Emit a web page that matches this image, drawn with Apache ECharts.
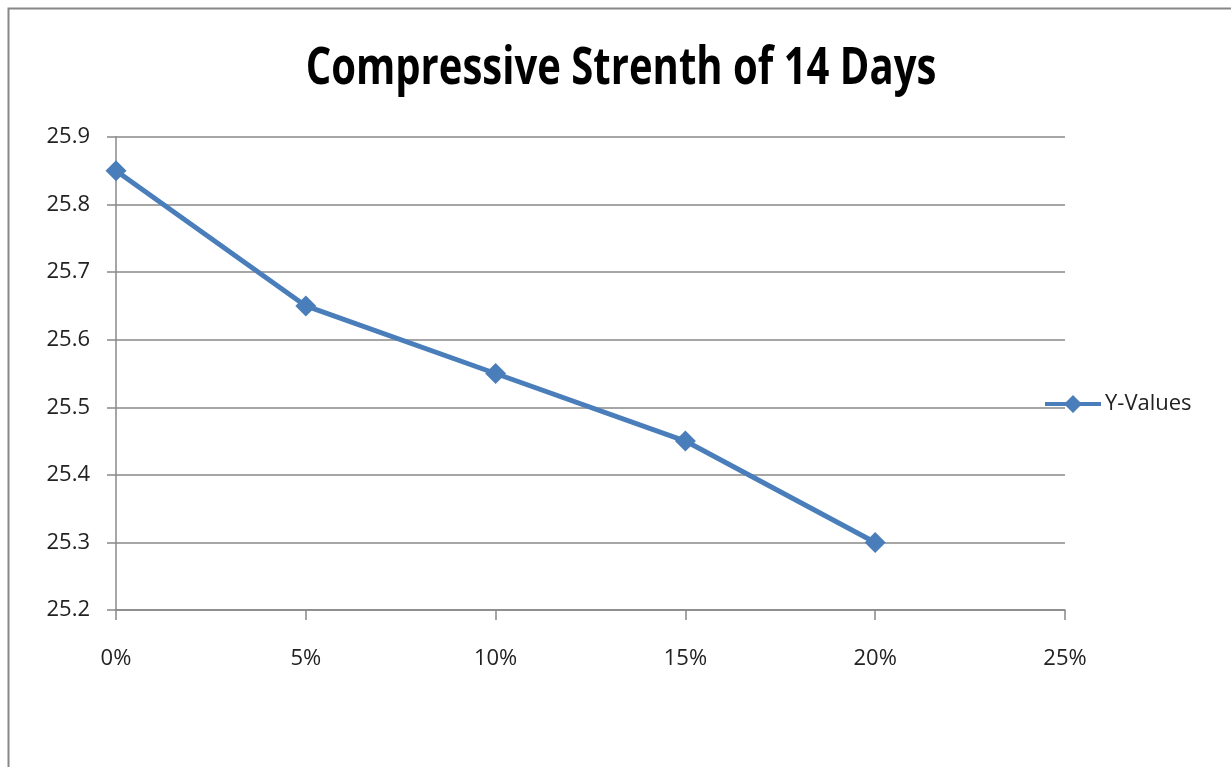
<!DOCTYPE html>
<html><head><meta charset="utf-8">
<script src="https://cdn.jsdelivr.net/npm/echarts@6/dist/echarts.min.js"></script>
<style>html,body{margin:0;padding:0;background:#fff}#c{width:1231px;height:767px}</style>
</head><body><div id="c"></div>
<script>
const titleText = 'Compressive Strenth of 14 Days';
const seriesName = 'Y-Values';
const xValues = [0, 0.05, 0.10, 0.15, 0.20];
const yValues = [25.85, 25.65, 25.55, 25.45, 25.30];

const chart = echarts.init(document.getElementById('c'));
const F = '"Open Sans", "DejaVu Sans", sans-serif';
chart.setOption({
  animation: false,
  backgroundColor: '#fff',
  graphic: [
    {type:'rect', shape:{x:8.5,y:8.5,width:1240,height:780}, style:{fill:null, stroke:'#888', lineWidth:2}},
    {type:'text', x: 621, y: 69, scaleX: 0.77, style:{text: titleText, fill:'#000', font: 'bold 52px "Open Sans", sans-serif', textAlign:'center', textVerticalAlign:'middle'}}
  ],
  legend: {data:[{name: seriesName, icon: 'path://M0,7 L56,7 L56,11 L0,11 Z M28,0 L37,9 L28,18 L19,9 Z'}], left: 1040, top: 388, itemWidth: 56, itemHeight: 18, itemGap: 4,
    textStyle: {fontFamily: F, fontSize: 22, color: '#222', padding:[0,0,0,-1]}},
  grid: {left: 116, right: 166, top: 137, bottom: 157},
  xAxis: {type: 'value', min: 0, max: 0.25, interval: 0.05,
    axisLine: {lineStyle: {color: '#888', width: 1.5}},
    axisTick: {show: true, length: 10, lineStyle: {color: '#888', width: 1.5}},
    splitLine: {show: false},
    axisLabel: {margin: 38, fontFamily: F, fontSize: 22, color: '#222', formatter: v => Math.round(v*100) + '%'}},
  yAxis: {type: 'value', min: 25.2, max: 25.9, interval: 0.1,
    axisLine: {show: true, lineStyle: {color: '#888', width: 1.5}},
    axisTick: {show: true, length: 9, lineStyle: {color: '#888', width: 1.5}},
    splitLine: {show: true, lineStyle: {color: '#888', width: 1.5}},
    axisLabel: {margin: 26, fontFamily: F, fontSize: 22, color: '#222', formatter: v => v.toFixed(1)}},
  series: [{name: seriesName, type: 'line', data: xValues.map((x,i)=>[x, yValues[i]]),
    symbol: 'diamond', symbolSize: 21, showAllSymbol: true,
    lineStyle: {color: '#4a7ebb', width: 5}, itemStyle: {color: '#4a7ebb'}}]
});
</script></body></html>
